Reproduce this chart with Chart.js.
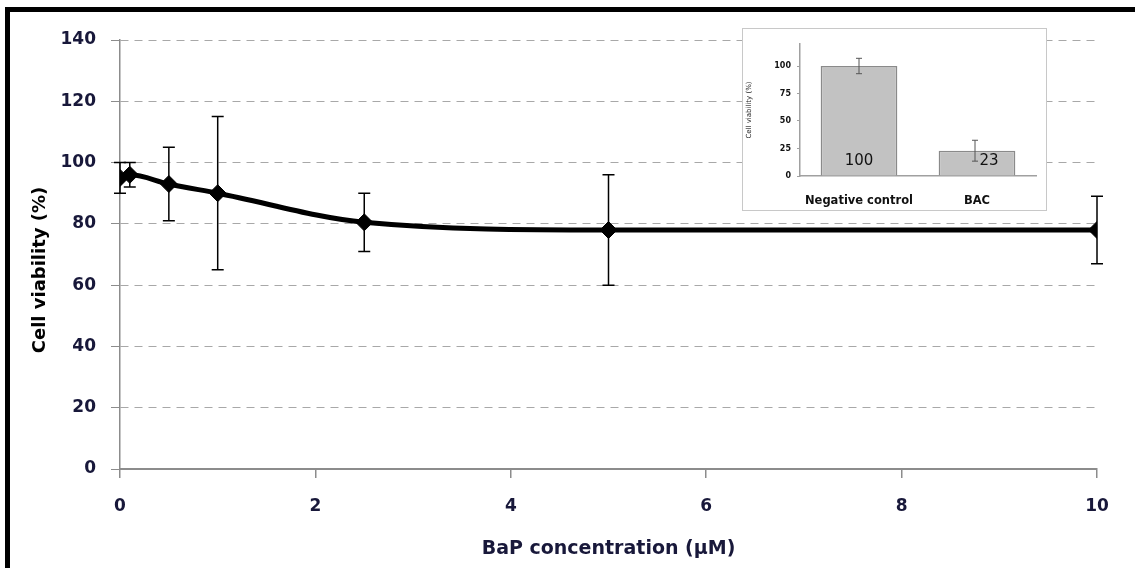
<!DOCTYPE html>
<html>
<head>
<meta charset="utf-8">
<script src="https://cdn.jsdelivr.net/npm/chart.js@4.4.1/dist/chart.umd.min.js"></script>
<style>
  body { margin: 0; background: #fff; overflow: hidden; }
  #wrap { position: relative; width: 1135px; height: 568px; }
  #frame {
    position: absolute; left: 5px; top: 7px; width: 1200px; height: 600px;
    border-top: 5px solid #000; border-left: 5px solid #000;
  }
  #main { position: absolute; left: 0; top: 0; }
  #inset {
    position: absolute; left: 742px; top: 28px; background: #fff;
    outline: 1px solid #c8c8c8; outline-offset: -1px;
  }
</style>
</head>
<body>
<div id="wrap">
  <div id="frame"></div>
  <canvas id="main" width="1135" height="568"></canvas>
  <canvas id="inset" width="305" height="183"></canvas>
</div>
<script>
// main chart data
const concentrations = [0, 0.1, 0.5, 1, 2.5, 5, 10];
const viability = [95, 96, 93, 90, 80.5, 78, 78];
const viabilityErr = [5, 4, 12, 25, 9.5, 18, 11];
const xTicks = [0, 2, 4, 6, 8, 10];
const yTicks = [0, 20, 40, 60, 80, 100, 120, 140];
const yTitle = "Cell viability (%)";

// inset data
const insetLabels = ["Negative control", "BAC"];
const insetValues = [100, 23];
const insetErr = [7, 9.5];
const insetTicks = [0, 25, 50, 75, 100];

const tickColor = "#18183a";

// draws +/- error bars for every dataset that carries an errors array
const errorBars = {
  id: "errorBars",
  afterDatasetsDraw(chart) {
    const ctx = chart.ctx;
    chart.data.datasets.forEach((ds, i) => {
      if (!ds.errors) return;
      const meta = chart.getDatasetMeta(i);
      const yScale = chart.scales[meta.yAxisID];
      meta.data.forEach((el, j) => {
        const v = ds.data[j];
        const val = typeof v === "object" ? v.y : v;
        const e = ds.errors[j];
        const x = el.x + (ds.errorShift ? ds.errorShift[j] : 0);
        const yTop = yScale.getPixelForValue(val + e);
        const yBot = yScale.getPixelForValue(val - e);
        const cap = ds.errorCap;
        ctx.save();
        ctx.strokeStyle = ds.errorColor;
        ctx.lineWidth = ds.errorWidth;
        ctx.beginPath();
        ctx.moveTo(x, yTop);
        ctx.lineTo(x, yBot);
        ctx.moveTo(x - cap, yTop);
        ctx.lineTo(x + cap, yTop);
        ctx.moveTo(x - cap, yBot);
        ctx.lineTo(x + cap, yBot);
        ctx.stroke();
        ctx.restore();
      });
    });
  },
};

// y title sits a bit below the middle of the axis in the original
const sideTitle = {
  id: "sideTitle",
  afterDraw(chart) {
    const ctx = chart.ctx;
    ctx.save();
    ctx.translate(40, 270);
    ctx.rotate(-Math.PI / 2);
    ctx.font = "bold 18px 'DejaVu Sans'";
    ctx.fillStyle = "#000";
    ctx.textAlign = "center";
    ctx.textBaseline = "middle";
    ctx.fillText(yTitle, 0, 0);
    ctx.restore();
  },
};

// number written inside each inset bar
const barLabels = {
  id: "barLabels",
  afterDatasetsDraw(chart) {
    const ctx = chart.ctx;
    const meta = chart.getDatasetMeta(0);
    const yScale = chart.scales.y;
    ctx.save();
    ctx.font = "15px 'DejaVu Sans'";
    ctx.fillStyle = "#111";
    ctx.textAlign = "center";
    ctx.textBaseline = "middle";
    meta.data.forEach((el, j) => {
      ctx.fillText(String(insetValues[j]), el.x + (j === 1 ? 12 : 0), yScale.getPixelForValue(0) - 15);
    });
    ctx.restore();
  },
};

new Chart(document.getElementById("main"), {
  type: "line",
  data: {
    datasets: [
      {
        data: concentrations.map((c, i) => ({ x: c, y: viability[i] })),
        errors: viabilityErr,
        errorColor: "#000",
        errorWidth: 1.5,
        errorCap: 6,
        borderColor: "#000",
        backgroundColor: "#000",
        borderWidth: 5,
        cubicInterpolationMode: "monotone",
        pointStyle: "rectRot",
        pointRadius: 8.5,
        pointBorderWidth: 1,
      },
    ],
  },
  options: {
    responsive: false,
    animation: false,
    layout: { padding: { left: 10, right: 38, top: 40, bottom: 0 } },
    plugins: { legend: { display: false }, tooltip: { enabled: false } },
    scales: {
      x: {
        type: "linear",
        min: 0,
        max: 10,
        afterBuildTicks: (s) => { s.ticks = xTicks.map((v) => ({ value: v })); },
        afterFit: (s) => { s.height = 99; },
        grid: { drawOnChartArea: false, drawTicks: true, tickLength: 9, color: "#8c8c8c", lineWidth: 1.5 },
        border: { color: "#8c8c8c", width: 2 },
        ticks: { color: tickColor, padding: 18, font: { family: "DejaVu Sans", size: 17, weight: "bold" } },
        title: {
          display: true,
          text: "BaP concentration (µM)",
          color: tickColor,
          font: { family: "DejaVu Sans", size: 19, weight: "bold" },
          padding: { top: 0, bottom: 8 },
        },
      },
      y: {
        min: 0,
        max: 140,
        afterBuildTicks: (s) => { s.ticks = yTicks.map((v) => ({ value: v })); },
        afterFit: (s) => { s.width = 110; },
        grid: { color: "#a8a8a8", lineWidth: 1, tickLength: 9, tickColor: "#8c8c8c" },
        border: { color: "#8c8c8c", width: 1.5, dash: [8, 6] },
        ticks: { color: tickColor, padding: 15, font: { family: "DejaVu Sans", size: 17, weight: "bold" } },
      },
    },
  },
  plugins: [errorBars, sideTitle],
});

new Chart(document.getElementById("inset"), {
  type: "bar",
  data: {
    labels: insetLabels,
    datasets: [
      {
        data: insetValues,
        errors: insetErr,
        errorShift: [0, -2],
        errorColor: "#555",
        errorWidth: 1,
        errorCap: 3,
        backgroundColor: "#c2c2c2",
        borderColor: "#8a8a8a",
        borderWidth: 1.5,
        barPercentage: 0.65,
        categoryPercentage: 1,
      },
    ],
  },
  options: {
    responsive: false,
    animation: false,
    layout: { padding: { left: 0, right: 11, top: 16, bottom: 0 } },
    plugins: { legend: { display: false }, tooltip: { enabled: false } },
    scales: {
      x: {
        afterFit: (s) => { s.height = 35; },
        grid: { display: false },
        border: { color: "#a0a0a0", width: 1.5 },
        ticks: {
          color: "#111", padding: 10, maxRotation: 0, minRotation: 0, autoSkip: false,
          font: { family: "DejaVu Sans", size: 11.5, weight: "bold" },
        },
      },
      y: {
        min: 0,
        max: 120,
        afterBuildTicks: (s) => { s.ticks = insetTicks.map((v) => ({ value: v })); },
        afterFit: (s) => { s.width = 58; },
        grid: { drawOnChartArea: false, tickLength: 3, color: "#a0a0a0" },
        border: { color: "#a0a0a0", width: 1.5 },
        ticks: { color: "#111", padding: 6, font: { family: "DejaVu Sans", size: 8, weight: "bold" } },
        title: {
          display: true,
          text: "Cell viability (%)",
          color: "#222",
          font: { family: "DejaVu Sans", size: 7 },
          padding: { top: 3, bottom: 0 },
        },
      },
    },
  },
  plugins: [errorBars, barLabels],
});
</script>
</body>
</html>
